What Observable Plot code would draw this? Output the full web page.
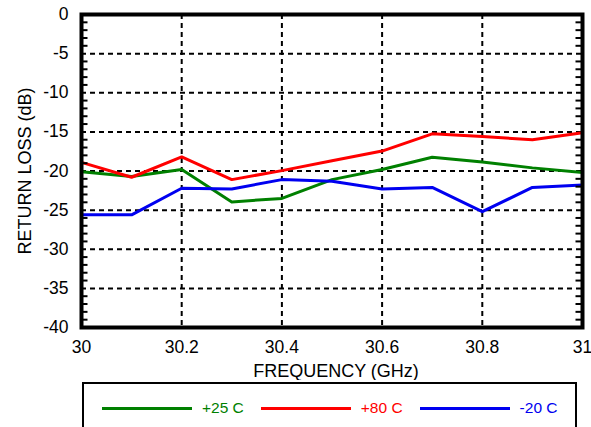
<!DOCTYPE html>
<html>
<head>
<meta charset="utf-8">
<script src="https://cdn.jsdelivr.net/npm/d3@7"></script>
<script src="https://cdn.jsdelivr.net/npm/@observablehq/plot@0.6"></script>
<style>
  html, body { margin: 0; padding: 0; background: #fff; overflow: hidden; }
  body { width: 591px; height: 427px; font-family: "Liberation Sans", Arial, Helvetica, sans-serif; }
  #chart svg { display: block; }
  #legend {
    margin-left: 82px; margin-top: 2px; width: 495px; height: 70px;
    border: 2px solid #000; padding: 14px 0 0 18px; box-sizing: border-box;
    display: flex; flex-wrap: nowrap; align-items: flex-start;
  }
  #legend .item { display: flex; align-items: center; height: 20px; flex: none; white-space: nowrap; }
  #legend .swatch { display: inline-block; width: 90px; height: 3px; }
  #legend .lab { margin-left: 10px; margin-right: 17px; font-size: 15.5px; line-height: 20px; white-space: nowrap; }
</style>
</head>
<body>
<div id="chart"></div>
<div id="legend"></div>
<script>
// ---- data ----
const freq = [30, 30.1, 30.2, 30.3, 30.4, 30.5, 30.6, 30.7, 30.8, 30.9, 31];
const seriesNames = ["+25 C", "+80 C", "-20 C"];
const seriesColors = ["#008000", "#ff0000", "#0000f0"];
const rl25 = [-20.1, -20.7, -19.8, -23.95, -23.5, -21.1, -19.8, -18.25, -18.85, -19.6, -20.2];
const rl80 = [-18.9, -20.8, -18.2, -21.1, -19.95, -18.7, -17.45, -15.25, -15.6, -16.0, -15.1];
const rlm20 = [-25.6, -25.6, -22.2, -22.3, -21.1, -21.3, -22.3, -22.1, -25.2, -22.1, -21.8];
const xTicks = [30, 30.2, 30.4, 30.6, 30.8, 31];
const yTicks = [0, -5, -10, -15, -20, -25, -30, -35, -40];
const minorYTicks = [-1, -2, -3, -4, -6, -7, -8, -9, -11, -12, -13, -14, -16, -17, -18, -19,
  -21, -22, -23, -24, -26, -27, -28, -29, -31, -32, -33, -34, -36, -37, -38, -39];
const xLabel = "FREQUENCY (GHz)";
const yLabel = "RETURN LOSS (dB)";

const seriesValues = [rl25, rl80, rlm20];
const rows = [];
seriesNames.forEach((name, i) => {
  freq.forEach((f, j) => rows.push({ series: name, f, v: seriesValues[i][j] }));
});
const gridX = xTicks.slice(1, -1);
const gridY = yTicks.slice(1, -1);

const W = 591, ML = 81, MR = 9;
const frameW = W - ML - MR;
const tickLen = 6.5;
const tickFont = "17.5px";
const titleFont = "18px";
const chart = Plot.plot({
  width: W,
  height: 380,
  marginLeft: ML,
  marginRight: MR,
  marginTop: 14,
  marginBottom: 53,
  style: { fontFamily: '"Liberation Sans", Arial, Helvetica, sans-serif', background: "white", color: "black" },
  x: { domain: [30, 31], axis: null },
  y: { domain: [-40, 0], axis: null },
  color: { domain: seriesNames, range: seriesColors },
  marks: [
    Plot.ruleY(gridY, { stroke: "black", strokeWidth: 2, strokeDasharray: "5,4" }),
    Plot.ruleX(gridX, { stroke: "black", strokeWidth: 2, strokeDasharray: "5,4" }),
    Plot.axisY(yTicks, { anchor: "left", tickSize: 0, tickPadding: 13, tickFormat: d => String(d), fontSize: tickFont, label: null }),
    Plot.axisX(xTicks, { anchor: "bottom", tickSize: 0, tickPadding: 13, tickFormat: d => String(d), fontSize: tickFont, label: null }),
    Plot.line(rows, { x: "f", y: "v", z: "series", stroke: "series", strokeWidth: 3 }),
    Plot.frame({ stroke: "black", strokeWidth: 4 }),
    Plot.ruleY(minorYTicks, { y: d => d, insetRight: frameW - tickLen, stroke: "#000", strokeWidth: 2, strokeOpacity: 1 }),
    Plot.ruleY(minorYTicks, { y: d => d, insetLeft: frameW - tickLen, stroke: "#000", strokeWidth: 2, strokeOpacity: 1 }),
    Plot.text([xLabel], { frameAnchor: "bottom", textAnchor: "middle", lineAnchor: "middle", dx: 4, dy: 44, fontSize: titleFont, fill: "black" }),
    Plot.text([yLabel], { frameAnchor: "left", textAnchor: "middle", lineAnchor: "middle", dx: -56, rotate: -90, fontSize: titleFont, fill: "black" })
  ]
});
document.getElementById("chart").appendChild(chart);

const legend = document.getElementById("legend");
seriesNames.forEach((name, i) => {
  const item = document.createElement("div");
  item.className = "item";
  const sw = document.createElement("span");
  sw.className = "swatch";
  sw.style.background = seriesColors[i];
  const lab = document.createElement("span");
  lab.className = "lab";
  lab.style.color = seriesColors[i];
  lab.textContent = name;
  item.appendChild(sw);
  item.appendChild(lab);
  legend.appendChild(item);
});
</script>
</body>
</html>
